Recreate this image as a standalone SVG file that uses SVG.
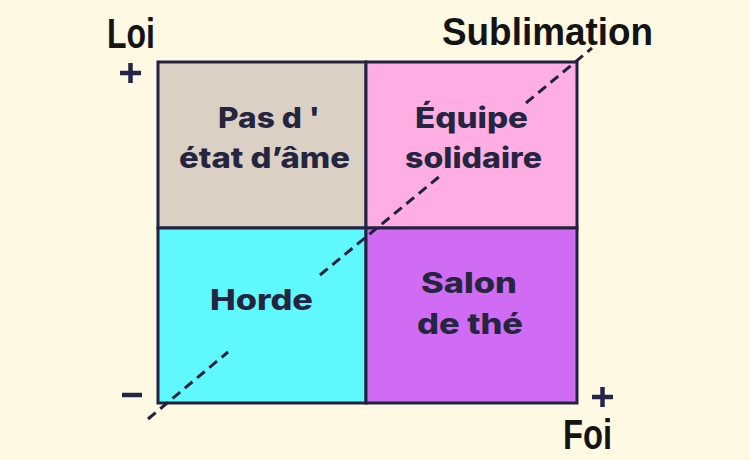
<svg xmlns="http://www.w3.org/2000/svg" width="750" height="460" viewBox="0 0 750 460">
<style>
.ax{font-family:"Liberation Sans",Arial,sans-serif;font-weight:700;fill:#141414}
.lbl{font-family:Inter,"Liberation Sans",Arial,sans-serif;font-weight:800;font-size:28px;fill:#25253f;text-anchor:middle}
.q{stroke:#222240;stroke-width:3}
.sign{stroke:#25254a;stroke-width:4.5}
</style>
<rect width="750" height="460" fill="#fdf9e3"/>
<g id="q-pas-detat-dame"><rect class="q" x="158" y="62" width="208" height="166" fill="#dad1c4"/>
<text class="lbl" x="269" y="128" textLength="102" lengthAdjust="spacingAndGlyphs">Pas d '</text><text class="lbl" x="264.5" y="168" textLength="171" lengthAdjust="spacingAndGlyphs">état d’âme</text></g>
<g id="q-equipe-solidaire"><rect class="q" x="366" y="62" width="211" height="166" fill="#ffaee4"/>
<text class="lbl" x="471.5" y="128" textLength="113" lengthAdjust="spacingAndGlyphs">Équipe</text><text class="lbl" x="473.5" y="168" textLength="137" lengthAdjust="spacingAndGlyphs">solidaire</text></g>
<g id="q-horde"><rect class="q" x="158" y="228" width="208" height="175" fill="#5ff8fc"/>
<text class="lbl" x="261.5" y="310" textLength="103" lengthAdjust="spacingAndGlyphs">Horde</text></g>
<g id="q-salon-de-the"><rect class="q" x="366" y="228" width="211" height="175" fill="#cf6cf3"/>
<text class="lbl" x="469" y="293" textLength="96" lengthAdjust="spacingAndGlyphs">Salon</text><text class="lbl" x="470" y="334" textLength="106" lengthAdjust="spacingAndGlyphs">de thé</text></g>
<g id="connectors" stroke="#22223e" stroke-width="3" stroke-dasharray="10 6" fill="none">
<line x1="148" y1="419" x2="228" y2="352"/>
<line x1="320" y1="275" x2="440" y2="176"/>
<line x1="526" y1="103" x2="592" y2="48"/>
</g>
<g id="axis-labels">
<text class="ax" x="107" y="48" font-size="43" textLength="48" lengthAdjust="spacingAndGlyphs">Loi</text>
<text class="ax" x="442" y="45" font-size="39" textLength="211" lengthAdjust="spacingAndGlyphs">Sublimation</text>
<text class="ax" x="563" y="449" font-size="43" textLength="49" lengthAdjust="spacingAndGlyphs">Foi</text>
<path class="sign" d="M120 73H141M130.5 63V83"/>
<path class="sign" d="M592 397H613M602.5 387V407"/>
<path class="sign" d="M122 395H142"/>
</g>
</svg>
